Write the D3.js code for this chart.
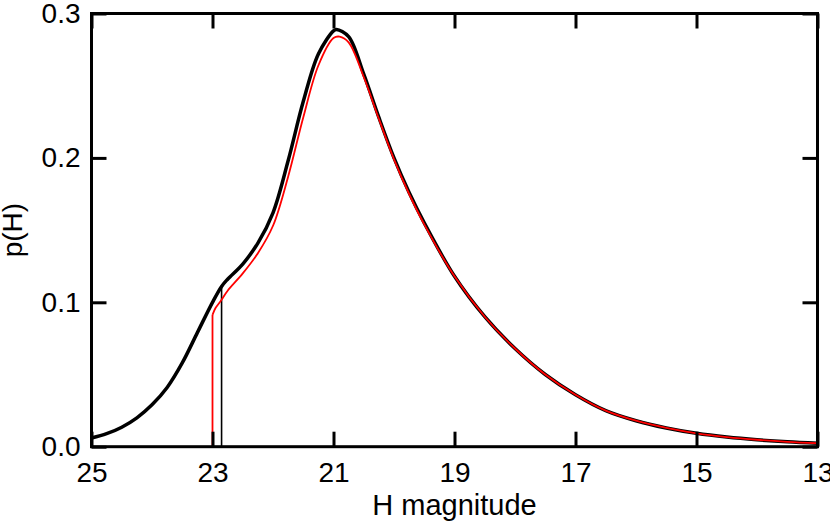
<!DOCTYPE html>
<html>
<head>
<meta charset="utf-8">
<script src="https://cdn.jsdelivr.net/npm/d3@7"></script>
<style>
  body { margin: 0; background: #fff; }
  svg text { font-family: "Liberation Sans", Arial, Helvetica, sans-serif; fill: #000; }
  .axis path.domain { display: none; }
  .axis line { stroke: #000; stroke-width: 3; }
</style>
</head>
<body>
<div id="chart"></div>
<script>
// data

var xTicks = [25, 23, 21, 19, 17, 15, 13];
var yTicks = [0.0, 0.1, 0.2, 0.3];

// black curve (full model)
var blackH = [25.0, 24.75, 24.5, 24.25, 24.0, 23.75, 23.5, 23.25, 23.0, 22.85, 22.75, 22.5, 22.25, 22.0, 21.75, 21.5, 21.25, 21.0, 20.95, 20.75, 20.5, 20.25, 20.0, 19.75, 19.5, 19.0, 18.5, 18.0, 17.5, 17.0, 16.5, 16.0, 15.5, 15.0, 14.5, 14.0, 13.5, 13.0];
var blackP = [0.006, 0.009, 0.0135, 0.020, 0.029, 0.041, 0.058, 0.079, 0.100, 0.111, 0.116, 0.1265, 0.141, 0.162, 0.198, 0.239, 0.272, 0.288, 0.289, 0.284, 0.258, 0.228, 0.200, 0.176, 0.155, 0.118, 0.090, 0.068, 0.050, 0.036, 0.025, 0.018, 0.013, 0.0093, 0.0067, 0.0048, 0.0034, 0.0024];

// red curve (truncated at H = 23)
var redH = [23.0, 22.95, 22.85, 22.75, 22.5, 22.25, 22.0, 21.75, 21.5, 21.25, 21.0, 20.9, 20.75, 20.5, 20.25, 20.0, 19.75, 19.5, 19.0, 18.5, 18.0, 17.5, 17.0, 16.5, 16.0, 15.5, 15.0, 14.5, 14.0, 13.5, 13.0];
var redP = [0.0913, 0.096, 0.1017, 0.108, 0.120, 0.134, 0.153, 0.187, 0.228, 0.264, 0.283, 0.284, 0.280, 0.256, 0.227, 0.199, 0.175, 0.154, 0.118, 0.090, 0.068, 0.050, 0.036, 0.025, 0.018, 0.013, 0.0093, 0.0067, 0.0048, 0.0034, 0.0024];

// vertical cuts
var cutH = 22.85;
var cutP = 0.111;
var redCutH = 23.0;
var redCutP = 0.0913;

var width = 830, height = 522;
var margin = {left: 91.5, right: 12.5, top: 13.5, bottom: 75.3};

var svg = d3.select("#chart").append("svg")
    .attr("width", width)
    .attr("height", height);

var x = d3.scaleLinear().domain([25, 13]).range([margin.left, width - margin.right]);
var y = d3.scaleLinear().domain([0, 0.3]).range([height - margin.bottom, margin.top]);

var line = d3.line()
    .x(function(d) { return x(d[0]); })
    .y(function(d) { return y(d[1]); })
    .curve(d3.curveCatmullRom.alpha(0.5));

var blackData = blackH.map(function(h, i) { return [h, blackP[i]]; });
var redData = redH.map(function(h, i) { return [h, redP[i]]; });

// curves
svg.append("path")
    .datum(blackData)
    .attr("d", line)
    .attr("fill", "none")
    .attr("stroke", "#000")
    .attr("stroke-width", 3.5);

svg.append("line")
    .attr("x1", x(cutH)).attr("x2", x(cutH))
    .attr("y1", y(0)).attr("y2", y(cutP))
    .attr("stroke", "#000")
    .attr("stroke-width", 1.6);

svg.append("line")
    .attr("x1", x(redCutH)).attr("x2", x(redCutH))
    .attr("y1", y(0)).attr("y2", y(redCutP))
    .attr("stroke", "#ff0000")
    .attr("stroke-width", 1.8);

svg.append("path")
    .datum(redData)
    .attr("d", line)
    .attr("fill", "none")
    .attr("stroke", "#ff0000")
    .attr("stroke-width", 1.8)
    .attr("stroke-linejoin", "round");

// axes (inward ticks, mirrored)
var tickLen = 15;

svg.append("g")
    .attr("class", "axis")
    .attr("transform", "translate(0," + y(0) + ")")
    .call(d3.axisBottom(x).tickValues(xTicks).tickSize(-tickLen).tickPadding(15).tickFormat(d3.format("d")))
    .selectAll("text").attr("font-size", 28).attr("dy", "0.71em");

svg.append("g")
    .attr("class", "axis")
    .attr("transform", "translate(0," + y(0.3) + ")")
    .call(d3.axisTop(x).tickValues(xTicks).tickSize(-tickLen).tickFormat(""));

svg.append("g")
    .attr("class", "axis")
    .attr("transform", "translate(" + x(25) + ",0)")
    .call(d3.axisLeft(y).tickValues(yTicks).tickSize(-tickLen).tickPadding(11).tickFormat(d3.format(".1f")))
    .selectAll("text").attr("font-size", 28);

svg.append("g")
    .attr("class", "axis")
    .attr("transform", "translate(" + x(13) + ",0)")
    .call(d3.axisRight(y).tickValues(yTicks).tickSize(-tickLen).tickFormat(""));

svg.selectAll(".axis text").attr("font-family", null);

// frame
svg.append("rect")
    .attr("x", x(25))
    .attr("y", y(0.3))
    .attr("width", x(13) - x(25))
    .attr("height", y(0) - y(0.3))
    .attr("fill", "none")
    .attr("stroke", "#000")
    .attr("stroke-width", 3);

// axis titles
svg.append("text")
    .attr("x", (x(25) + x(13)) / 2)
    .attr("y", 515)
    .attr("text-anchor", "middle")
    .attr("font-size", 29)
    .text("H magnitude");

svg.append("text")
    .attr("transform", "translate(22," + (y(0) + y(0.3)) / 2 + ") rotate(-90)")
    .attr("text-anchor", "middle")
    .attr("font-size", 28)
    .text("p(H)");
</script>
</body>
</html>
